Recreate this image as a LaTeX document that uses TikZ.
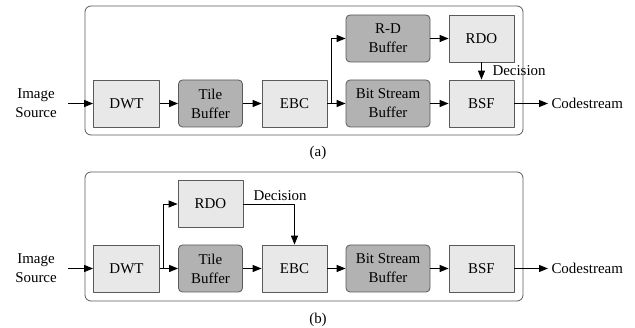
\documentclass[tikz,border=0pt]{standalone}
\usepackage{fontspec}
\setmainfont{Liberation Serif}
\usetikzlibrary{arrows.meta}

\definecolor{lightbox}{RGB}{232,232,232}
\definecolor{darkbox}{RGB}{178,178,178}
\definecolor{edgecol}{RGB}{90,90,90}

\begin{document}
\begin{tikzpicture}[>={Triangle[length=9bp,width=7bp]},line join=bevel,
  font=\fontsize{15}{19}\selectfont,
  blk/.style={draw=edgecol,fill=lightbox,line width=0.8bp,minimum height=47bp,align=center,inner sep=1bp},
  buf/.style={blk,fill=darkbox,rounded corners=4bp},
  frame/.style={draw=edgecol,line width=0.8bp,rounded corners=6bp},
  flow/.style={->,line width=0.9bp}]
%%
  \useasboundingbox (0,0) rectangle (635bp,328bp);
%% (a)
  \draw [frame] (85bp,193bp) rectangle (523bp,322bp);
  \node (srca) at (36bp,225bp) [align=center] {Image\\Source};
  \node (dwta) at (126.5bp,224.5bp) [blk,minimum width=66bp] {DWT};
  \node (tilea) at (210.5bp,224.5bp) [buf,minimum width=64bp] {Tile\\Buffer};
  \node (ebca) at (294.5bp,224.5bp) [blk,minimum width=65bp] {EBC};
  \node (bsbufa) at (388bp,224.5bp) [buf,minimum width=84bp] {Bit Stream\\Buffer};
  \node (rdbufa) at (388bp,289.5bp) [buf,minimum width=84bp] {R-D\\Buffer};
  \node (rdoa) at (481.5bp,289.5bp) [blk,minimum width=65bp] {RDO};
  \node (bsfa) at (481.5bp,224.5bp) [blk,minimum width=65bp] {BSF};
  \node (codea) at (548bp,224.5bp) [anchor=west] {Codestream};
  \coordinate (forka) at (331bp,224.5bp);
  \draw [flow] ([xshift=8bp]srca.east |- dwta.west) -- (dwta);
  \draw [flow] (dwta) -- (tilea);
  \draw [flow] (tilea) -- (ebca);
  \draw [flow] (ebca) -- (bsbufa);
  \draw [flow] (forka) |- (rdbufa);
  \draw [flow] (rdbufa) -- (rdoa);
  \draw [flow] (bsbufa) -- (bsfa);
  \draw [flow] (rdoa) -- (bsfa);
  \node (deca) at (489bp,257bp) [anchor=west] {Decision};
  \draw [flow] (bsfa) -- (codea);
  \node (capa) at (318bp,175bp) {(a)};
%% (b)
  \draw [frame] (85bp,27bp) rectangle (523bp,156bp);
  \node (srcb) at (36bp,60bp) [align=center] {Image\\Source};
  \node (dwtb) at (126.5bp,59.5bp) [blk,minimum width=66bp] {DWT};
  \node (rdob) at (210.5bp,124bp) [blk,minimum width=65bp] {RDO};
  \node (tileb) at (210.5bp,59.5bp) [buf,minimum width=64bp] {Tile\\Buffer};
  \node (ebcb) at (294.5bp,59.5bp) [blk,minimum width=65bp] {EBC};
  \node (bsbufb) at (388bp,59.5bp) [buf,minimum width=84bp] {Bit Stream\\Buffer};
  \node (bsfb) at (481.5bp,59.5bp) [blk,minimum width=65bp] {BSF};
  \node (codeb) at (548bp,59.5bp) [anchor=west] {Codestream};
  \coordinate (forkb) at (163bp,59.5bp);
  \draw [flow] ([xshift=8bp]srcb.east |- dwtb.west) -- (dwtb);
  \draw [flow] (dwtb) -- (tileb);
  \draw [flow] (forkb) |- (rdob);
  \draw [flow] (rdob) -| (ebcb);
  \node (decb) at (250bp,124bp) [anchor=south west] {Decision};
  \draw [flow] (tileb) -- (ebcb);
  \draw [flow] (ebcb) -- (bsbufb);
  \draw [flow] (bsbufb) -- (bsfb);
  \draw [flow] (bsfb) -- (codeb);
  \node (capb) at (318bp,8bp) {(b)};
%
\end{tikzpicture}
\end{document}
